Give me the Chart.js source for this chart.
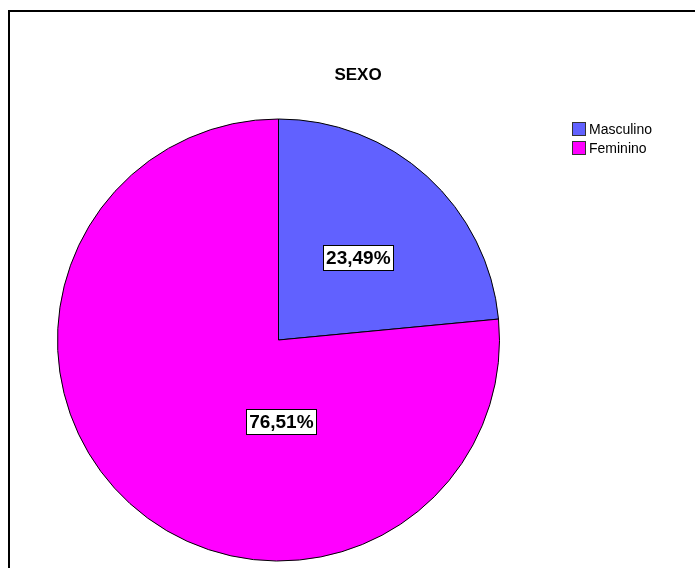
<!DOCTYPE html>
<html>
<head>
<meta charset="utf-8">
<script src="https://cdn.jsdelivr.net/npm/chart.js@4"></script>
<style>
  html, body { margin: 0; padding: 0; background: #fff; }
  #wrap { width: 695px; height: 568px; position: relative; }
</style>
</head>
<body>
<div id="wrap"><canvas id="chart" width="695" height="568"></canvas></div>
<script>
const categories = ["Masculino", "Feminino"];
const percentages = [23.49, 76.51];
const colors = ["#6161ff", "#ff00ff"];
const chartTitle = "SEXO";

const fmt = (v) => v.toFixed(2).replace(".", ",") + "%";

// frame, title, legend and boxed value labels
const decorPlugin = {
  id: "decor",
  afterDraw(chart) {
    const ctx = chart.ctx;
    ctx.save();

    // outer frame (only top and left are in view)
    ctx.strokeStyle = "#000";
    ctx.lineWidth = 2;
    ctx.beginPath();
    ctx.moveTo(9, 568);
    ctx.lineTo(9, 11);
    ctx.lineTo(695, 11);
    ctx.stroke();

    // title
    ctx.fillStyle = "#000";
    ctx.font = "bold 17px 'Liberation Sans', Arial, sans-serif";
    ctx.textAlign = "center";
    ctx.textBaseline = "middle";
    ctx.fillText(chartTitle, 358, 75);

    // legend
    ctx.font = "14px 'Liberation Sans', Arial, sans-serif";
    ctx.textAlign = "left";
    categories.forEach((name, i) => {
      const y = 122 + i * 19;
      ctx.fillStyle = colors[i];
      ctx.fillRect(572.5, y + 0.5, 13, 13);
      ctx.strokeStyle = "#333";
      ctx.lineWidth = 1;
      ctx.strokeRect(572.5, y + 0.5, 13, 13);
      ctx.fillStyle = "#000";
      ctx.fillText(name, 589, y + 8);
    });

    // value labels
    const meta = chart.getDatasetMeta(0);
    const place = chart.options.plugins.decor.place;
    ctx.font = "bold 19px 'Liberation Sans', Arial, sans-serif";
    ctx.textAlign = "center";
    meta.data.forEach((arc, i) => {
      const p = place[i];
      const a = p.angle * Math.PI / 180;
      const x = arc.x + Math.cos(a) * arc.outerRadius * p.r;
      const y = arc.y + Math.sin(a) * arc.outerRadius * p.r;
      const w = 70, h = 25;
      ctx.fillStyle = "#fff";
      ctx.fillRect(Math.round(x - w / 2) + 0.5, Math.round(y - h / 2) + 0.5, w, h);
      ctx.strokeStyle = "#000";
      ctx.lineWidth = 1;
      ctx.strokeRect(Math.round(x - w / 2) + 0.5, Math.round(y - h / 2) + 0.5, w, h);
      ctx.fillStyle = "#000";
      ctx.fillText(fmt(percentages[i]), x, y + 1);
    });

    ctx.restore();
  }
};

new Chart(document.getElementById("chart"), {
  type: "pie",
  data: {
    labels: categories,
    datasets: [{
      data: percentages,
      backgroundColor: colors,
      borderColor: "#000",
      borderWidth: 1,
      hoverOffset: 0
    }]
  },
  options: {
    responsive: false,
    animation: false,
    events: [],
    layout: { padding: { left: 57, right: 195, top: 118, bottom: 6 } },
    plugins: {
      legend: { display: false },
      tooltip: { enabled: false },
      decor: {
        place: [
          { angle: -46, r: 0.52 },
          { angle: 88, r: 0.37 }
        ]
      }
    }
  },
  plugins: [decorPlugin]
});
</script>
</body>
</html>
